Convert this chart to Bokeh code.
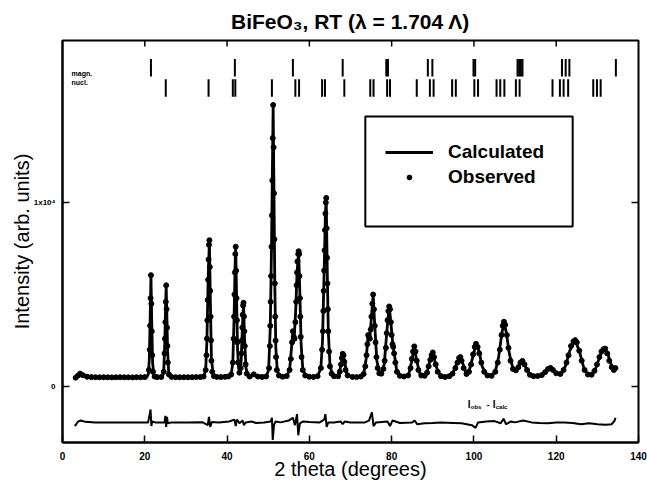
import math
from bokeh.plotting import figure
from bokeh.models import (Range1d, LinearAxis, FixedTicker, Label, Legend,
                          LegendItem, BoxAnnotation)
from bokeh.embed import file_html
from bokeh.resources import INLINE

# ---------------- data ----------------
x_ticks = [0, 20, 40, 60, 80, 100, 120, 140]
top_ticks = [20, 40, 60, 80, 100, 120]
y_ticks = [0, 10000]
y_tick_labels = {0: "0", 10000: "1x10\u2074"}

calc_xy = [
    (3.0, 430), (3.6, 580), (4.2, 690), (4.9, 610), (5.8, 525), (7, 505), (10, 500), (14, 500), (18, 500), (20.5, 510),
    (20.9, 700), (21.1, 1500), (21.3, 3600), (21.5, 6000), (21.7, 3400), (21.9, 1300), (22.2, 650), (23, 515), (24.3, 530),
    (24.6, 800), (24.85, 2300), (25.05, 4300), (25.2, 5450), (25.35, 4000), (25.55, 1900), (25.8, 800), (26.3, 540),
    (28, 505), (32, 508), (34.3, 540),
    (34.8, 900), (35.1, 2500), (35.4, 5800), (35.7, 7900), (35.95, 4500), (36.2, 1500), (36.6, 700), (37.5, 525),
    (40.3, 545), (41.0, 650),
    (41.4, 1300), (41.7, 3700), (41.95, 6600), (42.1, 7550), (42.3, 5000), (42.55, 2000), (42.8, 1000), (43.1, 780),
    (43.4, 1300), (43.7, 3100), (44.0, 4500), (44.25, 2600), (44.6, 1000), (45.0, 650), (45.8, 540), (46.5, 650),
    (47.3, 545), (49.5, 545),
    (50.1, 900), (50.5, 3200), (50.8, 7500), (51.0, 11500), (51.2, 15200), (51.4, 10500), (51.6, 5600), (51.85, 2100),
    (52.2, 850), (52.8, 580), (54.5, 570),
    (55.2, 900), (55.7, 2200), (56.0, 3000), (56.3, 2600), (56.7, 4200), (57.0, 6200), (57.4, 7300), (57.7, 5000),
    (58.0, 2300), (58.4, 950), (59, 620), (61, 520), (62, 560),
    (62.8, 1000), (63.2, 2500), (63.6, 6300), (63.9, 9400), (64.1, 10200), (64.3, 7000), (64.6, 3000), (65.0, 1200),
    (65.5, 700), (66.5, 560), (67.2, 680), (67.7, 1200), (68.2, 1780), (68.6, 1300), (69.2, 640), (70.5, 520), (72.5, 540),
    (73.2, 700), (73.8, 1500), (74.3, 2800), (74.7, 2650), (75.1, 3800), (75.5, 4950), (75.9, 3300), (76.4, 1400),
    (77.0, 760), (77.6, 760),
    (78.2, 1200), (78.8, 2900), (79.4, 4380), (79.8, 3500), (80.3, 2250), (80.7, 1700), (81.2, 900), (82, 590),
    (83.5, 560), (84.2, 700),
    (84.8, 1300), (85.5, 2150), (86.1, 1400), (86.8, 720), (87.8, 580), (88.6, 760), (89.3, 1400), (90.0, 1820),
    (90.6, 1300), (91.3, 750), (92.5, 540), (94, 560),
    (95.0, 800), (95.9, 1300), (96.6, 1600), (97.3, 1250), (98.1, 720), (98.8, 820), (99.6, 1500), (100.5, 2300),
    (101.2, 1950), (102.0, 1100), (103.0, 650), (104.3, 590),
    (105.2, 820), (106.0, 1600), (106.8, 2900), (107.3, 3500), (107.9, 2900), (108.6, 1800), (109.5, 950),
    (110.3, 900), (111.0, 1150), (111.8, 1380), (112.6, 1050), (113.5, 680), (114.8, 570), (116.3, 610),
    (117.3, 780), (118.6, 1000), (119.6, 820), (120.6, 680), (121.5, 750), (122.3, 1150), (123.3, 1950),
    (124.6, 2500), (125.6, 1950), (126.6, 1100), (127.5, 700), (128.5, 650), (129.4, 850), (130.4, 1500),
    (131.2, 1950), (131.9, 2050), (132.7, 1650), (133.5, 1100), (134.0, 910), (134.4, 1000),
]

obs_xy = [
    (3.2, 480), (3.8, 600), (4.3, 700), (5.0, 610), (6, 530), (7, 510), (8, 505), (9, 500), (10, 505), (11, 500),
    (12, 495), (13, 500), (14, 505), (15, 500), (16, 500), (17, 495), (18, 505), (19, 500), (20, 510),
    (21.0, 900), (21.2, 2000), (21.3, 3300), (21.4, 4800), (21.5, 6050), (21.6, 4500), (21.7, 3000), (21.8, 1700),
    (22.0, 800), (22.4, 540), (23, 510), (24, 515),
    (24.6, 800), (24.8, 1800), (24.9, 2600), (25.0, 3500), (25.1, 4600), (25.2, 5500), (25.3, 4200), (25.4, 3200),
    (25.5, 2200), (25.6, 1300), (25.9, 650), (26.5, 520),
    (27.5, 505), (28.5, 500), (29.5, 505), (30.5, 500), (31.5, 505), (32.5, 510), (33.5, 515), (34.3, 540),
    (34.8, 900), (35.0, 1700), (35.1, 2600), (35.2, 3600), (35.3, 4700), (35.4, 5800), (35.5, 6900), (35.6, 7700),
    (35.7, 7950), (35.8, 6500), (35.9, 5200), (36.0, 3800), (36.1, 2500), (36.2, 1400), (36.4, 800), (36.8, 560),
    (37.5, 520), (38.5, 510), (39.5, 525), (40.3, 545), (41.0, 650),
    (41.4, 1300), (41.6, 2600), (41.7, 3800), (41.8, 5000), (41.9, 6200), (42.0, 7200), (42.1, 7600), (42.2, 6300),
    (42.3, 4800), (42.4, 3600), (42.5, 2400), (42.7, 1300), (43.0, 750), (43.3, 1000),
    (43.5, 1800), (43.6, 2500), (43.7, 3200), (43.8, 3900), (43.9, 4400), (44.0, 4550), (44.1, 3800), (44.2, 3000),
    (44.3, 2200), (44.5, 1200), (44.8, 700), (45.5, 540), (46.5, 660), (47.5, 540), (48.5, 520), (49.5, 545),
    (50.2, 1000), (50.4, 2200), (50.5, 3300), (50.6, 4600), (50.7, 6000), (50.8, 7600), (50.9, 9300), (51.0, 11200),
    (51.1, 13500), (51.2, 15300), (51.3, 13000), (51.4, 10500), (51.5, 8000), (51.6, 5600), (51.7, 3800),
    (51.8, 2500), (51.9, 1600), (52.1, 900), (52.6, 600), (53.5, 530), (54.5, 570),
    (55.2, 900), (55.5, 1500), (55.8, 2400), (56.0, 3000), (56.2, 2700), (56.4, 2600), (56.6, 3500), (56.8, 4600),
    (56.9, 5500), (57.0, 6200), (57.1, 6800), (57.3, 7200), (57.4, 7350), (57.5, 7200), (57.6, 6000), (57.7, 4800),
    (57.8, 3800), (57.9, 2700), (58.1, 1600), (58.4, 900), (59, 600), (60, 530), (61, 520), (62, 560),
    (62.8, 1000), (63.1, 2000), (63.3, 3000), (63.4, 4100), (63.5, 5200), (63.6, 6300), (63.7, 7400), (63.8, 8500),
    (63.9, 9400), (64.0, 10000), (64.1, 10250), (64.2, 8600), (64.3, 7000), (64.4, 5600), (64.5, 4200), (64.6, 3000),
    (64.8, 1900), (65.0, 1100), (65.4, 700), (66, 560), (67, 560),
    (67.4, 800), (67.7, 1200), (67.9, 1550), (68.1, 1780), (68.3, 1700), (68.5, 1350), (68.8, 900), (69.3, 600),
    (70.5, 520), (71.5, 515), (72.5, 540), (73.2, 680),
    (73.6, 1100), (73.9, 1700), (74.1, 2300), (74.3, 2800), (74.5, 2700), (74.7, 2600), (74.9, 3100), (75.1, 3800),
    (75.3, 4500), (75.5, 5000), (75.7, 4200), (75.9, 3300), (76.1, 2400), (76.3, 1600), (76.6, 1000), (77.0, 720),
    (77.5, 700),
    (78.0, 950), (78.3, 1400), (78.6, 2100), (78.8, 2900), (79.0, 3600), (79.2, 4100), (79.4, 4350), (79.6, 4200),
    (79.8, 3500), (80.0, 2800), (80.2, 2300), (80.4, 2150), (80.6, 1800), (80.9, 1300), (81.3, 800), (82, 580),
    (83, 545), (84, 600),
    (84.6, 1000), (84.9, 1500), (85.2, 1900), (85.5, 2180), (85.8, 1900), (86.1, 1400), (86.5, 900), (87.2, 600),
    (88, 580), (88.6, 750),
    (89.0, 1100), (89.4, 1450), (89.7, 1700), (90.0, 1850), (90.3, 1600), (90.7, 1200), (91.2, 800), (92, 560),
    (93, 520), (94, 560), (94.8, 700),
    (95.5, 1000), (96.0, 1300), (96.4, 1550), (96.7, 1600), (97.0, 1400), (97.5, 1000), (98.2, 680), (98.8, 800),
    (99.3, 1200), (99.8, 1750), (100.2, 2150), (100.5, 2320), (100.9, 2150), (101.3, 1800), (101.8, 1300),
    (102.5, 800), (103.3, 600), (104.3, 580),
    (105.2, 800), (105.8, 1300), (106.3, 2000), (106.7, 2800), (107.0, 3300), (107.3, 3520), (107.6, 3350),
    (108.0, 2800), (108.4, 2100), (108.9, 1400), (109.5, 950), (110.2, 880), (110.8, 1050), (111.3, 1300),
    (111.8, 1390), (112.3, 1200), (112.9, 900), (113.6, 640), (114.5, 560), (115.5, 570), (116.5, 620),
    (117.3, 780), (118.0, 950), (118.6, 1010), (119.2, 900), (120.0, 720), (121.0, 680), (121.8, 900),
    (122.5, 1300), (123.0, 1700), (123.6, 2200), (124.2, 2450), (124.6, 2520), (125.0, 2400), (125.6, 1950),
    (126.2, 1400), (126.9, 900), (127.7, 650), (128.6, 640), (129.3, 850), (129.9, 1200), (130.5, 1600),
    (131.0, 1900), (131.5, 2030), (131.9, 2060), (132.4, 1800), (132.9, 1400), (133.5, 1050), (134.0, 900),
    (134.4, 1000),
]

diff_xy = [
    (3.0, -2150), (3.8, -1900), (4.5, -1850), (5.5, -1920), (8, -1950), (15, -1960), (20.8, -1960), (21.2, -1500),
    (21.4, -1250), (21.6, -2150), (21.8, -1900), (22.5, -1950), (24.8, -1950), (25.0, -1600), (25.2, -2200),
    (25.4, -1650), (25.6, -2000), (26.5, -1950), (30, -1950), (34, -1940), (35.3, -2100), (35.6, -1650),
    (35.9, -2200), (36.3, -1930), (38, -1960), (40.5, -1900), (41.8, -1800), (42.1, -2150), (42.4, -1800),
    (43, -2000), (43.8, -1850), (44.1, -2100), (44.5, -1950), (46, -1900), (47, -1980), (49, -1960), (50.6, -1900),
    (50.9, -1700), (51.1, -2900), (51.4, -2100), (51.8, -1900), (53, -1950), (55, -1850), (56, -1700),
    (56.5, -2100), (57.0, -1500), (57.3, -2650), (57.7, -2000), (58.5, -1900), (60, -1930), (62.5, -1950),
    (63.6, -1800), (63.9, -1500), (64.2, -2200), (64.6, -1950), (66, -1950), (67.6, -1900), (68.1, -2050),
    (68.6, -1900), (70, -1950), (73.5, -1950), (74.5, -1850), (75.2, -1400), (75.6, -2150), (76.2, -1950),
    (79, -1900), (79.6, -2150), (80.2, -1850), (82, -1980), (85, -1950), (85.6, -1850), (86.2, -2050), (88, -2000),
    (90, -1980), (92, -1950), (95, -1980), (97, -2000), (99.5, -2100), (100.4, -2250), (101, -1950), (103, -1900),
    (105, -1880), (106.5, -2000), (107.2, -1750), (107.8, -2050), (109, -1900), (110, -1950), (112, -1850),
    (114, -1950), (116, -1980), (118, -2000), (120, -1950), (122, -1950), (124, -1980), (126, -2050), (128, -2000),
    (130, -2050), (132, -2080), (133.5, -2050), (134.2, -1850), (134.4, -1700),
]

magn_pos = [21.5, 41.9, 56.0, 68.1, 78.7, 79.1, 88.8, 89.9, 99.9, 100.3, 110.6, 111.0, 111.4, 111.8,
            121.4, 122.3, 123.2, 134.5]
nucl_pos = [25.1, 35.5, 41.4, 42.0, 50.9, 56.6, 57.5, 63.1, 63.8, 68.5, 74.8, 75.6, 78.9, 79.6, 86.1,
            89.3, 90.2, 94.7, 95.6, 100.1, 101.0, 105.5, 106.4, 107.4, 110.2, 111.1, 119.1, 120.9,
            121.8, 122.9, 129.0, 129.9, 130.8]

calc_x = [a for a, b in calc_xy]
calc_y = [b for a, b in calc_xy]
obs_x = [a for a, b in obs_xy]
obs_y = [b for a, b in obs_xy]
diff_x = [a for a, b in diff_xy]
diff_y = [b for a, b in diff_xy]

FONT = "Liberation Sans"
X0, X1 = 0, 140
Y0, Y1 = -3043, 18804

p = figure(width=647, height=484, output_backend="svg", toolbar_location=None,
           x_range=Range1d(X0, X1), y_range=Range1d(Y0, Y1),
           x_axis_location=None, y_axis_location=None,
           min_border_left=62, min_border_right=9, min_border_top=40, min_border_bottom=42)
p.grid.visible = False
p.outline_line_color = "black"
p.outline_line_width = 2
p.outline_line_alpha = 1
p.background_fill_color = "white"
p.border_fill_color = "white"

p.title.text = "BiFeO\u2083, RT (\u03bb = 1.704 \u039b)"
p.title.align = "center"
p.title.text_font = FONT
p.title.text_font_size = "21px"
p.title.text_font_style = "bold"
p.title.text_color = "black"
p.title.standoff = 15


def style_axis(ax, font_size):
    ax.axis_line_width = 2
    ax.axis_line_color = "black"
    ax.major_tick_in = 7
    ax.major_tick_out = 0
    ax.major_tick_line_width = 1.5
    ax.major_tick_line_color = "black"
    ax.minor_tick_in = 0
    ax.minor_tick_out = 0
    ax.major_label_text_font = FONT
    ax.major_label_text_font_style = "bold"
    ax.major_label_text_font_size = font_size
    ax.major_label_text_color = "black"
    ax.axis_label_text_font = FONT
    ax.axis_label_text_font_style = "normal"
    ax.axis_label_text_font_size = "20px"
    ax.axis_label_text_color = "black"


xb = LinearAxis(ticker=FixedTicker(ticks=x_ticks))
style_axis(xb, "10px")
xb.major_label_standoff = 9
xb.axis_label = "2 theta (degrees)"
xb.axis_label_standoff = -5
p.add_layout(xb, "below")

yl = LinearAxis(ticker=FixedTicker(ticks=y_ticks), major_label_overrides=y_tick_labels)
style_axis(yl, "8px")
yl.major_label_standoff = 7
yl.axis_label = "Intensity (arb. units)"
yl.axis_label_standoff = -2
p.add_layout(yl, "left")

# inward ticks on the top and right edges of the frame
p.ray(x=top_ticks, y=[Y1] * len(top_ticks), length=6, length_units="screen",
      angle=-math.pi / 2, line_color="black", line_width=1.5)
p.ray(x=[X1] * len(y_ticks), y=y_ticks, length=7, length_units="screen",
      angle=math.pi, line_color="black", line_width=1.5)

# profile
calc_r = p.line(calc_x, calc_y, line_color="black", line_width=2.8)
obs_r = p.scatter(obs_x, obs_y, marker="circle", size=5, color="black")
p.line(diff_x, diff_y, line_color="black", line_width=2)

# reflection markers
p.segment(x0=magn_pos, x1=magn_pos, y0=16850, y1=17800, line_color="black", line_width=2)
p.segment(x0=nucl_pos, x1=nucl_pos, y0=15750, y1=16700, line_color="black", line_width=2)

for txt, yy in (("magn.", 17010), ("nucl.", 16520)):
    p.add_layout(Label(x=2.2, y=yy, text=txt, text_font=FONT, text_font_size="7px",
                       text_font_style="bold", text_baseline="middle", text_color="black"))

# I_obs - I_calc label
base = dict(x=98.5, y=-980, text_font=FONT, text_font_style="bold", text_baseline="middle",
            text_color="black")
p.add_layout(Label(text="I", text_font_size="10px", **base))
p.add_layout(Label(text="obs", text_font_size="6px", x_offset=3, y_offset=-2, **base))
p.add_layout(Label(text="-", text_font_size="9px", x_offset=19, **base))
p.add_layout(Label(text="I", text_font_size="10px", x_offset=25, **base))
p.add_layout(Label(text="calc", text_font_size="6px", x_offset=28, y_offset=-2, **base))

# legend
p.add_layout(BoxAnnotation(left=73.6, right=124.0, bottom=8696, top=14675,
                           fill_alpha=0, line_color="black", line_alpha=1, line_width=2))
legend = Legend(items=[LegendItem(label="Calculated", renderers=[calc_r]),
                       LegendItem(label="Observed", renderers=[obs_r])],
                location=(323, 254), border_line_alpha=0, background_fill_alpha=0,
                padding=0, margin=0, spacing=3, glyph_width=48, glyph_height=12,
                label_height=22, label_standoff=15, label_text_font=FONT,
                label_text_font_size="19px", label_text_font_style="bold",
                label_text_color="black")
p.add_layout(legend)

open("out.html", "w").write(file_html(p, INLINE))
